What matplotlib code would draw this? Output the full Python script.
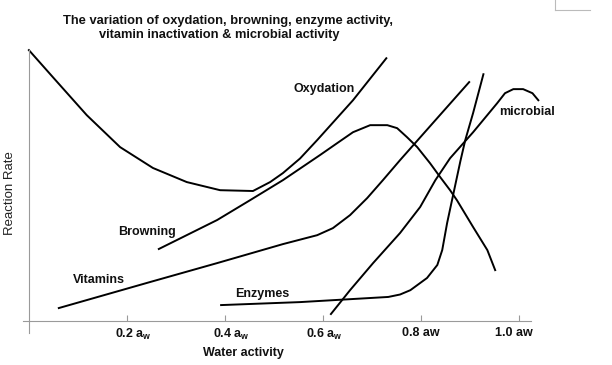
import matplotlib
matplotlib.use("Agg")
import matplotlib.pyplot as plt
from matplotlib.lines import Line2D
from matplotlib.transforms import ScaledTranslation

plt.rcParams['font.family'] = ['Liberation Sans', 'DejaVu Sans']
plt.rcParams['mathtext.fontset'] = 'custom'
plt.rcParams['mathtext.rm'] = 'Liberation Sans'
plt.rcParams['mathtext.bf'] = 'Liberation Sans:bold'

# Curves (water activity, reaction rate in arbitrary units)
oxy_x = [0.000, 0.049, 0.118, 0.186, 0.253, 0.322, 0.390, 0.457, 0.492, 0.518,
         0.553, 0.588, 0.661, 0.729]
oxy_y = [100.0, 90.0, 76.0, 64.2, 56.5, 51.3, 48.3, 48.0, 51.3, 54.6,
         60.0, 66.8, 81.5, 97.0]

brown_x = [0.265, 0.314, 0.384, 0.451, 0.518, 0.594, 0.629, 0.661, 0.696, 0.731, 0.751,
           0.771, 0.792, 0.818, 0.839, 0.859, 0.873, 0.906, 0.935, 0.951]
brown_y = [26.6, 31.0, 37.3, 44.6, 52.0, 61.3, 65.7, 69.7, 72.3, 72.3, 71.2,
           67.9, 64.2, 58.3, 53.1, 48.3, 44.6, 34.7, 26.2, 18.8]

vit_x = [0.061, 0.247, 0.384, 0.518, 0.588, 0.620, 0.655, 0.690, 0.722, 0.757, 0.824, 0.898]
vit_y = [4.8, 14.4, 21.4, 28.4, 31.7, 34.3, 39.1, 45.4, 52.0, 59.4, 73.1, 88.2]

enz_x = [0.392, 0.553, 0.733, 0.757, 0.778, 0.812, 0.833, 0.843, 0.853, 0.880,
         0.890, 0.906, 0.927]
enz_y = [5.9, 7.0, 8.9, 9.8, 11.4, 15.9, 20.7, 26.2, 36.2, 59.0,
         66.8, 76.8, 91.1]

mic_x = [0.616, 0.655, 0.702, 0.757, 0.798, 0.829, 0.859, 0.906, 0.955, 0.971, 0.988,
         1.008, 1.027, 1.039]
mic_y = [2.6, 11.4, 21.4, 32.5, 42.1, 52.0, 60.1, 69.7, 80.4, 84.1, 85.6,
         85.6, 84.1, 81.5]

tick_pos = [0.2, 0.4, 0.6, 0.8, 1.0]
tick_labels = [r"0.2 a$_\mathbf{w}$", r"0.4 a$_\mathbf{w}$", r"0.6 a$_\mathbf{w}$",
               "0.8 aw", "1.0 aw"]

# curve labels: text, x, y
curve_labels = [("Oxydation", 0.602, 85.6), ("Browning", 0.241, 32.8),
                ("Vitamins", 0.143, 15.1), ("Enzymes", 0.476, 10.0),
                ("microbial", 1.016, 77.1)]

fig = plt.figure(figsize=(6.12, 3.65), dpi=100)
ax = fig.add_axes([0.0376, 0.0877, 0.830, 0.775])

for xs, ys in [(oxy_x, oxy_y), (brown_x, brown_y), (vit_x, vit_y),
               (enz_x, enz_y), (mic_x, mic_y)]:
    ax.plot(xs, ys, color='black', lw=1.4, clip_on=False, solid_joinstyle='round')

for text, x, y in curve_labels:
    ax.text(x, y, text, ha='center', va='center', fontsize=9, fontweight='bold',
            color='#111111')

ax.set_xlim(-0.012, 1.024)
ax.set_ylim(-4.4, 100)
for side in ['top', 'right']:
    ax.spines[side].set_visible(False)
ax.spines['left'].set_position(('data', 0))
ax.spines['bottom'].set_position(('data', 0))
ax.spines['left'].set_color('#9a9a9a')
ax.spines['bottom'].set_color('#9a9a9a')

ax.set_yticks([])
ax.set_xticks(tick_pos)
ax.set_xticklabels(tick_labels, fontsize=9, fontweight='bold', color='#111111')
ax.tick_params(axis='x', direction='in', length=4, color='#9a9a9a', pad=4)
shifts = [6, 6, 1, 0, -5]
for lab, dx in zip(ax.get_xticklabels(), shifts):
    lab.set_transform(lab.get_transform() + ScaledTranslation(dx / 100, 0, fig.dpi_scale_trans))

ax.set_xlabel("Water activity", fontsize=9, fontweight='bold', color='#111111')
ax.xaxis.set_label_coords(0.433, -0.05)
ax.set_ylabel("Reaction Rate", fontsize=9.5, color='#222222', va='center')
ax.yaxis.set_label_coords(-0.0256, 0.495)

fig.text(228 / 612, 1 - 21 / 365, "The variation of oxydation, browning, enzyme activity,",
         ha='center', va='center', fontsize=9.3, fontweight='bold', color='#111111')
fig.text(219 / 612, 1 - 35 / 365, "vitamin inactivation & microbial activity",
         ha='center', va='center', fontsize=9.3, fontweight='bold', color='#111111')

# small box corner in the top right of the original picture
fig.add_artist(Line2D([555 / 612, 555 / 612], [1.0, 1 - 10 / 365], color='#bbbbbb', lw=0.8))
fig.add_artist(Line2D([555 / 612, 590 / 612], [1 - 10 / 365, 1 - 10 / 365], color='#bbbbbb', lw=0.8))

fig.savefig("out.png", dpi=100)
